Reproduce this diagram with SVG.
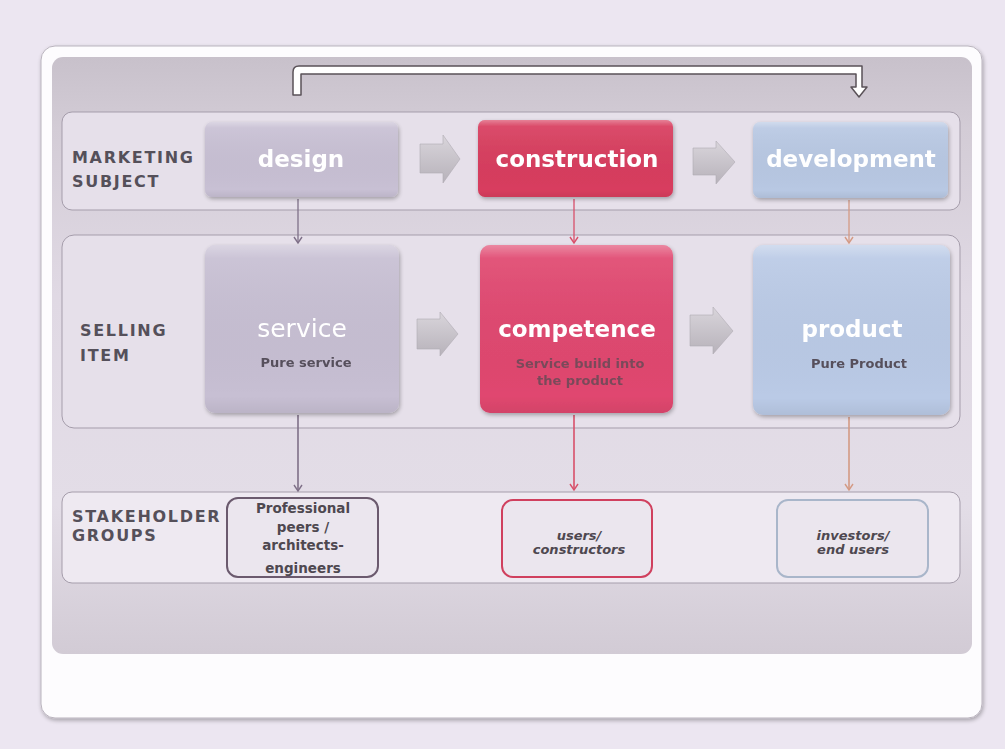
<svg xmlns="http://www.w3.org/2000/svg" width="1005" height="749" viewBox="0 0 1005 749">
<defs>
<linearGradient id="panel" x1="0" y1="0" x2="0" y2="1">
<stop offset="0" stop-color="#c8c1cb"/>
<stop offset="0.12" stop-color="#d3ccd6"/>
<stop offset="0.4" stop-color="#e0d9e4"/>
<stop offset="0.75" stop-color="#e3dde7"/>
<stop offset="1" stop-color="#d2cbd5"/>
</linearGradient>
<linearGradient id="chev" x1="0" y1="0" x2="0" y2="1">
<stop offset="0" stop-color="#d9d5db"/>
<stop offset="1" stop-color="#b7b2ba"/>
</linearGradient>
<linearGradient id="gloss" x1="0" y1="0" x2="0" y2="1">
<stop offset="0" stop-color="#ffffff" stop-opacity="0.35"/>
<stop offset="0.08" stop-color="#ffffff" stop-opacity="0.08"/>
<stop offset="0.9" stop-color="#000000" stop-opacity="0"/>
<stop offset="1" stop-color="#000000" stop-opacity="0.06"/>
</linearGradient>
<filter id="sh" x="-10%" y="-10%" width="120%" height="130%">
<feGaussianBlur in="SourceAlpha" stdDeviation="2"/>
<feOffset dx="1" dy="2" result="o"/>
<feComponentTransfer><feFuncA type="linear" slope="0.3"/></feComponentTransfer>
<feMerge><feMergeNode/><feMergeNode in="SourceGraphic"/></feMerge>
</filter>
<marker id="ah1" markerWidth="10" markerHeight="10" refX="8" refY="5" orient="auto" markerUnits="userSpaceOnUse" viewBox="0 0 10 10">
<path d="M2,1 L8,5 L2,9" fill="none" stroke="#7f7088" stroke-width="1.4"/>
</marker>
<marker id="ah2" markerWidth="10" markerHeight="10" refX="8" refY="5" orient="auto" markerUnits="userSpaceOnUse" viewBox="0 0 10 10">
<path d="M2,1 L8,5 L2,9" fill="none" stroke="#d8506a" stroke-width="1.4"/>
</marker>
<marker id="ah3" markerWidth="10" markerHeight="10" refX="8" refY="5" orient="auto" markerUnits="userSpaceOnUse" viewBox="0 0 10 10">
<path d="M2,1 L8,5 L2,9" fill="none" stroke="#d49a84" stroke-width="1.4"/>
</marker>
</defs>
<style>
.lbl{font-family:"DejaVu Sans",Verdana,sans-serif;font-weight:bold;font-size:16px;fill:#55505a;letter-spacing:1.7px}
.big{font-family:"DejaVu Sans",Verdana,sans-serif;font-weight:bold;font-size:23px;fill:#ffffff;text-anchor:middle}
.bigr{font-family:"DejaVu Sans",Verdana,sans-serif;font-weight:normal;font-size:25px;fill:#ffffff;text-anchor:middle}
.sub{font-family:"DejaVu Sans",Verdana,sans-serif;font-weight:bold;font-size:13px;fill:#57505c;text-anchor:middle}
.st{font-family:"DejaVu Sans",Verdana,sans-serif;font-weight:bold;font-size:13.5px;fill:#4e4850;text-anchor:middle}
.sti{font-family:"DejaVu Sans",Verdana,sans-serif;font-weight:bold;font-style:italic;font-size:13px;fill:#4e4850;text-anchor:middle}
.band{stroke:#a59dab;stroke-width:1}
.chev{fill:url(#chev);stroke:#b0abb3;stroke-width:0.6}
</style>
<rect x="0" y="0" width="1005" height="749" fill="#ece6f1"/>
<rect x="41" y="46" width="941" height="672" rx="14" fill="#fdfcfe" stroke="#b9b3bd" stroke-width="1" filter="url(#sh)"/>
<rect x="52" y="57" width="920" height="597" rx="11" fill="url(#panel)"/>

<g id="band-marketing">
<rect class="band" x="62" y="112" width="898" height="98" rx="10" fill="#e6e0ea"/>
<text class="lbl" x="72" y="163">MARKETING</text>
<text class="lbl" x="72" y="187">SUBJECT</text>
</g>
<g id="band-selling">
<rect class="band" x="62" y="235" width="898" height="193" rx="12" fill="#e6e0ea"/>
<text class="lbl" x="80" y="336">SELLING</text>
<text class="lbl" x="80" y="361">ITEM</text>
</g>
<g id="band-stakeholder">
<rect class="band" x="62" y="492" width="898" height="91" rx="10" fill="#eee9f1"/>
<text class="lbl" x="72" y="522">STAKEHOLDER</text>
<text class="lbl" x="72" y="541">GROUPS</text>
</g>

<g id="connectors">
<path d="M293,95 L293,72 Q293,66 299,66 L862,66 L862,87 L867,87 L859,97 L851,87 L856,87 L856,74 L301,74 L301,95 Z" fill="#ffffff" stroke="#5a5258" stroke-width="1.5" stroke-linejoin="round"/>
<polygon class="chev" points="420,144 443,144 443,135 460,159 443,183 443,173 420,173"/>
<polygon class="chev" points="693,148 716,148 716,141 735,162 716,184 716,175 693,175"/>
<polygon class="chev" points="417,319 440,319 440,312 458,334 440,356 440,349 417,349"/>
<polygon class="chev" points="690,315 713,315 713,307 733,331 713,354 713,346 690,346"/>
<line x1="298" y1="199" x2="298" y2="243" stroke="#7f7088" stroke-width="1.3" marker-end="url(#ah1)"/>
<line x1="574" y1="199" x2="574" y2="243" stroke="#d8506a" stroke-width="1.3" marker-end="url(#ah2)"/>
<line x1="849" y1="200" x2="849" y2="243" stroke="#d49a84" stroke-width="1.3" marker-end="url(#ah3)"/>
<line x1="298" y1="415" x2="298" y2="491" stroke="#7f7088" stroke-width="1.6" marker-end="url(#ah1)"/>
<line x1="574" y1="415" x2="574" y2="490" stroke="#d8506a" stroke-width="1.6" marker-end="url(#ah2)"/>
<line x1="849" y1="417" x2="849" y2="490" stroke="#d49a84" stroke-width="1.6" marker-end="url(#ah3)"/>
</g>

<g id="design" filter="url(#sh)">
<rect x="205" y="122" width="193" height="75" rx="7" fill="#c8c0d4"/>
<rect x="205" y="122" width="193" height="75" rx="7" fill="url(#gloss)"/>
<text class="big" x="301" y="167">design</text>
</g>
<g id="construction" filter="url(#sh)">
<rect x="478" y="120" width="195" height="77" rx="7" fill="#d83d5e"/>
<rect x="478" y="120" width="195" height="77" rx="7" fill="url(#gloss)"/>
<text class="big" x="577" y="167">construction</text>
</g>
<g id="development" filter="url(#sh)">
<rect x="753" y="122" width="195" height="76" rx="7" fill="#b8c8e3"/>
<rect x="753" y="122" width="195" height="76" rx="7" fill="url(#gloss)"/>
<text class="big" x="851" y="167">development</text>
</g>

<g id="service" filter="url(#sh)">
<rect x="205" y="245" width="194" height="168" rx="10" fill="#c7bfd3"/>
<rect x="205" y="245" width="194" height="168" rx="10" fill="url(#gloss)"/>
<text class="bigr" x="302" y="337">service</text>
<text class="sub" x="306" y="367">Pure service</text>
</g>
<g id="competence" filter="url(#sh)">
<rect x="480" y="245" width="193" height="168" rx="10" fill="#e0476f"/>
<rect x="480" y="245" width="193" height="168" rx="10" fill="url(#gloss)"/>
<text class="big" x="577" y="337">competence</text>
<text class="sub" x="580" y="368" style="fill:#7a4a5a">Service build into</text>
<text class="sub" x="580" y="385" style="fill:#7a4a5a">the product</text>
</g>
<g id="product" filter="url(#sh)">
<rect x="753" y="245" width="197" height="170" rx="10" fill="#bacae6"/>
<rect x="753" y="245" width="197" height="170" rx="10" fill="url(#gloss)"/>
<text class="big" x="852" y="337">product</text>
<text class="sub" x="859" y="368">Pure Product</text>
</g>

<g id="professional">
<rect x="227" y="498" width="151" height="79" rx="11" fill="#ebe6ee" stroke="#6b5a6e" stroke-width="2"/>
<text class="st" x="303" y="513">Professional</text>
<text class="st" x="303" y="532">peers /</text>
<text class="st" x="303" y="550">architects-</text>
<text class="st" x="303" y="573">engineers</text>
</g>
<g id="users">
<rect x="502" y="500" width="150" height="77" rx="11" fill="#ebe6ee" stroke="#d0405e" stroke-width="2"/>
<text class="sti" x="579" y="540">users/</text>
<text class="sti" x="579" y="554">constructors</text>
</g>
<g id="investors">
<rect x="777" y="500" width="151" height="77" rx="11" fill="#ebe6ee" stroke="#a9b6ca" stroke-width="2"/>
<text class="sti" x="853" y="540">investors/</text>
<text class="sti" x="853" y="554">end users</text>
</g>
</svg>
